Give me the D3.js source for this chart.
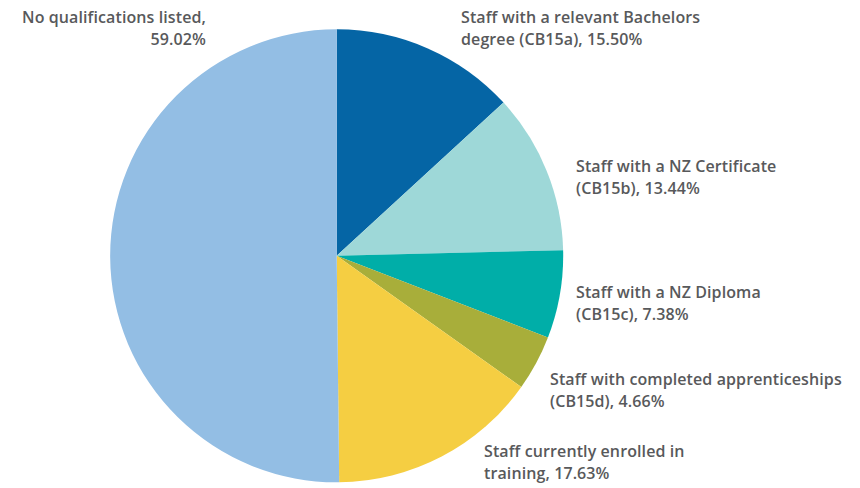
<!DOCTYPE html>
<html>
<head>
<meta charset="utf-8">
<script src="https://cdn.jsdelivr.net/npm/d3@7"></script>
<style>
  html, body { margin: 0; padding: 0; background: #fff; }
  svg text { font-family: "Open Sans", sans-serif; font-weight: 600; font-size: 16px; letter-spacing: 0.1px; fill: #58595b; }
</style>
</head>
<body>
<svg id="chart" width="860" height="488"></svg>
<script>
// Qualification categories, in drawing order (clockwise from 12 o'clock)
const categories = [
  "Staff with a relevant Bachelors degree (CB15a)",
  "Staff with a NZ Certificate (CB15b)",
  "Staff with a NZ Diploma (CB15c)",
  "Staff with completed apprenticeships (CB15d)",
  "Staff currently enrolled in training",
  "No qualifications listed"
];
const values = [15.50, 13.44, 7.38, 4.66, 17.63, 59.02];
const colors = ["#0565a5", "#9ed8d8", "#00aea8", "#a8ae3a", "#f5ce42", "#93bee4"];

// Label text, split into lines
const labelLines = [
  ["Staff with a relevant Bachelors", "degree (CB15a), 15.50%"],
  ["Staff with a NZ Certificate", "(CB15b), 13.44%"],
  ["Staff with a NZ Diploma", "(CB15c), 7.38%"],
  ["Staff with completed apprenticeships", "(CB15d), 4.66%"],
  ["Staff currently enrolled in", "training, 17.63%"],
  ["No qualifications listed,", "59.02%"]
];

const svg = d3.select("#chart");
const cx = 336.7, cy = 255.8, radius = 226.5;

const pie = d3.pie().sort(null).value(d => d.value);
const arc = d3.arc().innerRadius(0).outerRadius(radius);

const data = categories.map((c, i) => ({ name: c, value: values[i], color: colors[i] }));

const g = svg.append("g").attr("transform", `translate(${cx},${cy})`);
g.selectAll("path")
  .data(pie(data))
  .join("path")
  .attr("d", arc)
  .attr("fill", d => d.data.color);

// Label anchors: x, first baseline, alignment
const labelPos = [
  { x: 461, y: 23, anchor: "start" },
  { x: 576, y: 172, anchor: "start" },
  { x: 576, y: 298, anchor: "start" },
  { x: 550, y: 385, anchor: "start" },
  { x: 484, y: 457, anchor: "start" },
  { x: 206, y: 23, anchor: "end" }
];
const lineHeight = 22;

labelLines.forEach((lines, i) => {
  const p = labelPos[i];
  const t = svg.append("text")
    .attr("x", p.x)
    .attr("y", p.y)
    .attr("text-anchor", p.anchor);
  lines.forEach((ln, j) => {
    t.append("tspan")
      .attr("x", p.x)
      .attr("dy", j === 0 ? 0 : lineHeight)
      .text(ln);
  });
});
</script>
</body>
</html>
